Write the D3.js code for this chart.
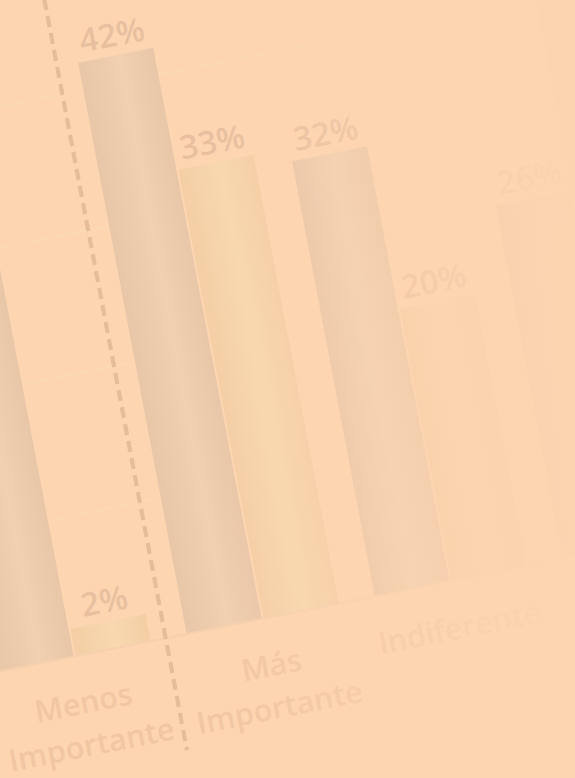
<!DOCTYPE html>
<html>
<head>
<meta charset="utf-8">
<script src="https://cdn.jsdelivr.net/npm/d3@7"></script>
<style>
  body { margin: 0; background: #fdd5b1; overflow: hidden; }
  svg { display: block; }
</style>
</head>
<body>
<div id="chart"></div>
<script>
// data
const categories = ["Menos Importante", "Más Importante", "Indiferente", "No Responde"];
const seriesNames = ["Serie 1", "Serie 2"];
const serie1 = [48, 42, 32, 26];
const serie2 = [2, 33, 20, 45];
const gridTicks = [10, 20, 30, 40, 50];

const width = 575;
const height = 778;

const svg = d3.select("#chart")
  .append("svg")
  .attr("width", width)
  .attr("height", height);

const defs = svg.append("defs");

function barGradient(id, c0, c1) {
  const g = defs.append("linearGradient").attr("id", id)
    .attr("x1", "0").attr("x2", "1").attr("y1", "0").attr("y2", "0");
  g.append("stop").attr("offset", "0").attr("stop-color", c0);
  g.append("stop").attr("offset", "0.55").attr("stop-color", c1);
  g.append("stop").attr("offset", "1").attr("stop-color", c0);
}
barGradient("grad1", "#e8c6a8", "#f0d0b1");
barGradient("grad2", "#f4cea5", "#f8d8af");

const fade = defs.append("linearGradient").attr("id", "fade")
  .attr("x1", "0").attr("x2", "1").attr("y1", "0").attr("y2", "0");
fade.append("stop").attr("offset", "0.38").attr("stop-color", "#fdd5b1").attr("stop-opacity", 0);
fade.append("stop").attr("offset", "0.8").attr("stop-color", "#fdd5b1").attr("stop-opacity", 0.7);
fade.append("stop").attr("offset", "1").attr("stop-color", "#fdd5b1").attr("stop-opacity", 0.92);

svg.append("rect")
  .attr("width", width)
  .attr("height", height)
  .attr("fill", "#fdd5b1");

// the photo is tilted and leaning, so the whole chart sits in a sheared group
const chart = svg.append("g")
  .attr("transform", "matrix(1,-0.2,0.19,1,-3.3,672)");

const x0 = d3.scaleBand()
  .domain(categories)
  .range([2, 718])
  .paddingInner(0.1915);

const x1 = d3.scaleBand()
  .domain(seriesNames)
  .range([0, x0.bandwidth()])
  .paddingInner(0.026);

const y = d3.scaleLinear()
  .domain([0, 50])
  .range([0, -680]);

// grid lines
chart.append("g")
  .selectAll("line")
  .data(gridTicks)
  .enter()
  .append("line")
  .attr("x1", -300)
  .attr("x2", 1100)
  .attr("y1", d => y(d))
  .attr("y2", d => y(d))
  .attr("stroke", "#fbd9b3")
  .attr("stroke-width", 2);

const rows = categories.map((c, i) => [
  { cat: c, s: seriesNames[0], v: serie1[i] },
  { cat: c, s: seriesNames[1], v: serie2[i] }
]).flat();

chart.append("g")
  .selectAll("rect")
  .data(rows)
  .enter()
  .append("rect")
  .attr("x", d => x0(d.cat) + x1(d.s))
  .attr("y", d => y(d.v))
  .attr("width", x1.bandwidth())
  .attr("height", d => y(0) - y(d.v))
  .attr("fill", d => d.s == seriesNames[0] ? "url(#grad1)" : "url(#grad2)");

chart.append("g")
  .selectAll("text")
  .data(rows)
  .enter()
  .append("text")
  .attr("x", d => x0(d.cat) + x1(d.s) + x1.bandwidth() / 2)
  .attr("y", d => y(d.v) - 9)
  .attr("text-anchor", "middle")
  .attr("font-family", "'Open Sans', sans-serif")
  .attr("font-weight", 600)
  .attr("font-size", 32)
  .attr("fill", "#e8c0a0")
  .text(d => d.v + "%");

// baseline
chart.append("line")
  .attr("x1", -300)
  .attr("x2", 1100)
  .attr("y1", y(0))
  .attr("y2", y(0))
  .attr("stroke", "#f6d0ad")
  .attr("stroke-width", 2);

// category labels, wrapped on spaces
const catLabels = chart.append("g")
  .selectAll("text")
  .data(categories)
  .enter()
  .append("text")
  .attr("text-anchor", "middle")
  .attr("font-family", "'Open Sans', sans-serif")
  .attr("font-weight", 600)
  .attr("font-size", 30)
  .attr("fill", "#f1c7a3");

catLabels.selectAll("tspan")
  .data(d => d.split(" ").map(w => ({ w: w, c: d })))
  .enter()
  .append("tspan")
  .attr("x", d => x0(d.c) + x0.bandwidth() / 2)
  .attr("y", (d, i) => 57 + i * 42)
  .text(d => d.w);

// dashed separator between the first two groups
const sepX = (x0(categories[0]) + x0.bandwidth() + x0(categories[1])) / 2 - 3;
chart.append("line")
  .attr("x1", sepX)
  .attr("x2", sepX)
  .attr("y1", y(52))
  .attr("y2", 112)
  .attr("stroke", "#e5bd9b")
  .attr("stroke-width", 4)
  .attr("stroke-dasharray", "11,6");

// the right side of the photo is washed out
svg.append("rect")
  .attr("width", width)
  .attr("height", height)
  .attr("fill", "url(#fade)");
</script>
</body>
</html>
